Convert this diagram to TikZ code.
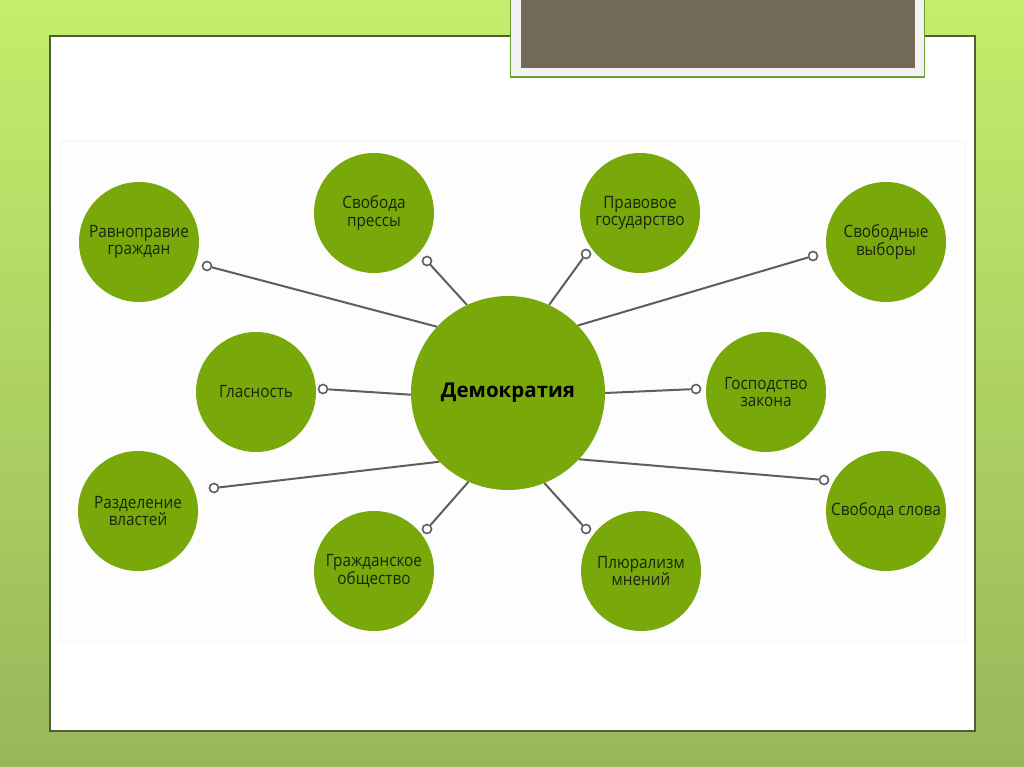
\documentclass[tikz,border=0pt]{standalone}
\usepackage{fontspec}
\setmainfont{Open Sans}
\newfontfamily\satfont[FakeStretch=0.9]{Open Sans}
\begin{document}
\begin{tikzpicture}[x=1pt,y=-1pt,
  sat/.style={circle,fill=cfill,minimum size=120pt,inner sep=0pt,align=center,
    text=ctext,font=\satfont\fontsize{17}{17.5}\selectfont},
  hub/.style={circle,fill=cfill,minimum size=194pt,inner sep=0pt,
    text=black,font=\fontsize{20.5}{23}\selectfont\bfseries},
  dot/.style={circle,draw=lgray,line width=1.6pt,fill=white,minimum size=9pt,inner sep=0pt},
  conn/.style={draw=lgray,line width=2pt}]
\definecolor{cfill}{HTML}{79A80B}
\definecolor{ctext}{HTML}{1A240C}
\definecolor{lgray}{HTML}{5E5E62}
\definecolor{bgtop}{HTML}{C4EE6C}
\definecolor{bgbot}{HTML}{97B75A}
\definecolor{pborder}{HTML}{4E5E3A}
\definecolor{tborder}{HTML}{6E9E2E}
\definecolor{tfill}{HTML}{726958}
\useasboundingbox (0,0) rectangle (1024,767);
% background
\shade[top color=bgtop,bottom color=bgbot] (0,0) rectangle (1024,767);
% white panel
\draw[pborder,line width=1.5pt,fill=white] (50,36) rectangle (975,731);
% diagram area
\draw[draw=black!4,fill=white!99.3!black] (60,140) rectangle (965,641);
% title box
\draw[tborder,line width=1.3pt,fill=black!5] (510.5,-2) rectangle (924.5,77);
\fill[tfill] (521,-2) rectangle (915,68);
% hub
\node[hub] (d) at (508,393) {Демократия};
% satellites
\node[sat] (s1) at (139,242) {Равноправие\\граждан};
\node[sat] (s2) at (374,213) {Свобода\\прессы};
\node[sat] (s3) at (640,213) {Правовое\\государство};
\node[sat] (s4) at (886,242) {Свободные\\выборы};
\node[sat] (s5) at (256,392) {Гласность};
\node[sat] (s6) at (766,392) {Господство\\закона};
\node[sat] (s7) at (138,511) {Разделение\\властей};
\node[sat] (s8) at (374,571) {Гражданское\\общество};
\node[sat] (s9) at (641,571) {Плюрализм\\мнений};
\node[sat] (s10) at (886,511) {Свобода слова};
% connector dots
\node[dot] (p1) at (207,266) {};
\node[dot] (p2) at (427,261) {};
\node[dot] (p3) at (586,254) {};
\node[dot] (p4) at (813,256) {};
\node[dot] (p5) at (323,389) {};
\node[dot] (p6) at (696,389) {};
\node[dot] (p7) at (214,488) {};
\node[dot] (p8) at (427,529) {};
\node[dot] (p9) at (586,529) {};
\node[dot] (p10) at (824,480) {};
% connectors
\draw[conn] (d.137) -- (p1);
\draw[conn] (d.115) -- (p2);
\draw[conn] (d.65) -- (p3);
\draw[conn] (d.44) -- (p4);
\draw[conn] (d.181) -- (p5);
\draw[conn] (d.0) -- (p6);
\draw[conn] (d.225) -- (p7);
\draw[conn] (d.246) -- (p8);
\draw[conn] (d.292) -- (p9);
\draw[conn] (d.-43) -- (p10);
\end{tikzpicture}
\end{document}
